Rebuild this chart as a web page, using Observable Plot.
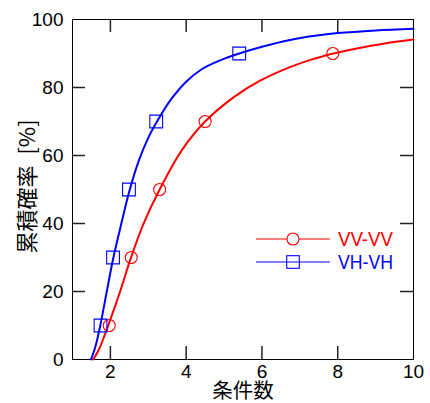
<!DOCTYPE html>
<html><head><meta charset="utf-8">
<script src="https://cdn.jsdelivr.net/npm/d3@7"></script>
<script src="https://cdn.jsdelivr.net/npm/@observablehq/plot@0.6"></script>
<style>body{margin:0;background:#fff}</style>
</head><body><div id="chart"></div>
<script>
// Axis ticks and labels
const xTicks = [2, 4, 6, 8, 10];
const yTicks = [0, 20, 40, 60, 80, 100];
const xLabel = "条件数";
const yLabel = "累積確率\u2002[%]";

// Series names
const seriesNames = ["VV-VV", "VH-VH"];
const seriesColors = ["#ff0000", "#0000ff"];

// Smooth curves
const vvCurveX = [1.55, 1.70, 1.85, 2.00, 2.15, 2.30, 2.53, 2.87, 3.30, 3.90, 4.50, 5.25, 5.95, 6.74, 7.30, 7.89, 8.50, 9.20, 10];
const vvCurveY = [0, 3, 7.2, 11.8, 16.5, 21.5, 29.5, 39.8, 50, 61.8, 70, 77.1, 82, 86, 88.2, 90, 91.5, 92.9, 94.1];
const vhCurveX = [1.49, 1.60, 1.73, 1.91, 2.08, 2.30, 2.50, 2.75, 3.00, 3.30, 3.60, 4.00, 4.40, 4.90, 5.40, 6.00, 6.74, 7.40, 8.00, 9.00, 10];
const vhCurveY = [0, 3.6, 9.8, 20.3, 30, 40.5, 49.5, 58.5, 65.2, 71.3, 76.5, 81.7, 85.3, 88, 90, 92, 94, 95.2, 96, 96.8, 97.3];

// Markers
const vvMarkX = [1.97, 2.55, 3.30, 4.50, 7.87];
const vvMarkY = [10, 30, 50, 70, 90];
const vhMarkX = [1.74, 2.07, 2.49, 3.21, 5.40];
const vhMarkY = [10, 30, 50, 70, 90];

const vvCurve = vvCurveX.map((x, i) => ({x, y: vvCurveY[i]}));
const vhCurve = vhCurveX.map((x, i) => ({x, y: vhCurveY[i]}));
const vvMarks = vvMarkX.map((x, i) => ({x, y: vvMarkY[i]}));
const vhMarks = vhMarkX.map((x, i) => ({x, y: vhMarkY[i]}));

const W = 430, H = 403;
const mL = 72, mR = 17, mT = 19, mB = 44;
const innerW = W - mL - mR, innerH = H - mT - mB;
const tickLen = 13;
const tickColor = "#222";
const tickWidth = 1.5;
const cjk = "'Noto Sans CJK JP', sans-serif";
const innerXTicks = xTicks.filter(v => v > 1 && v < 10);
const innerYTicks = yTicks.filter(v => v > 0 && v < 100);

const plot = Plot.plot({
  width: W, height: H,
  marginLeft: mL, marginRight: mR, marginTop: mT, marginBottom: mB,
  style: {fontFamily: "'Liberation Sans', Arial, sans-serif", fontSize: "19px", color: "#000", background: "#fff"},
  x: {domain: [1, 10], ticks: xTicks, tickSize: 0, tickPadding: 5, label: null},
  y: {domain: [0, 100], ticks: yTicks, tickSize: 0, tickPadding: 9, label: null},
  marks: [
    Plot.frame({stroke: "#000", strokeWidth: 1}),
    Plot.line(vvCurve, {x: "x", y: "y", stroke: seriesColors[0], strokeWidth: 2, curve: "catmull-rom"}),
    Plot.line(vhCurve, {x: "x", y: "y", stroke: seriesColors[1], strokeWidth: 2, curve: "catmull-rom"}),
    Plot.dot(vvMarks, {x: "x", y: "y", r: 6, stroke: seriesColors[0], strokeWidth: 1.1, fill: "none"}),
    Plot.dot(vhMarks, {x: "x", y: "y", r: 7.2, symbol: "square", stroke: seriesColors[1], strokeWidth: 1.1, fill: "none"}),
    // inward mirror ticks on all four sides
    Plot.ruleX(innerXTicks, {x: d => d, insetTop: innerH - tickLen, stroke: tickColor, strokeWidth: tickWidth}),
    Plot.ruleX(innerXTicks, {x: d => d, insetBottom: innerH - tickLen, stroke: tickColor, strokeWidth: tickWidth}),
    Plot.ruleY(innerYTicks, {y: d => d, insetRight: innerW - tickLen, stroke: tickColor, strokeWidth: tickWidth}),
    Plot.ruleY(innerYTicks, {y: d => d, insetLeft: innerW - tickLen, stroke: tickColor, strokeWidth: tickWidth}),
    Plot.text([xLabel], {text: d => d, frameAnchor: "bottom", textAnchor: "middle", lineAnchor: "middle", dy: 32, fontSize: 20.5, fontFamily: cjk, fill: "#000"}),
    Plot.text([yLabel], {text: d => d, frameAnchor: "left", textAnchor: "middle", lineAnchor: "middle", rotate: -90, dx: -45, dy: -3, fontSize: 22, fontFamily: cjk, fill: "#000"})
  ]
});

// Legend inside the frame (right side), placed relative to the plot's frame
const svg = d3.select(plot);
const sx = plot.scale("x"), sy = plot.scale("y");
const [fx0, fx1] = d3.extent(sx.range), [fy0, fy1] = d3.extent(sy.range);
const lg = svg.append("g");
seriesNames.forEach((name, i) => {
  const y = fy0 + 220 + i * 23;
  const x0 = fx1 - 157, x1 = fx1 - 83, xm = (x0 + x1) / 2;
  lg.append("line").attr("x1", x0).attr("x2", x1).attr("y1", y).attr("y2", y)
    .attr("stroke", seriesColors[i]).attr("stroke-width", 1.2);
  if (i === 0) {
    lg.append("circle").attr("cx", xm).attr("cy", y).attr("r", 6)
      .attr("fill", "#fff").attr("stroke", seriesColors[i]).attr("stroke-width", 1.1);
  } else {
    lg.append("rect").attr("x", xm - 6.3).attr("y", y - 6.3).attr("width", 12.6).attr("height", 12.6)
      .attr("fill", "none").attr("stroke", seriesColors[i]).attr("stroke-width", 1.1);
  }
  lg.append("text").attr("x", fx1 - 75).attr("y", y).attr("dy", "0.36em")
    .attr("text-anchor", "start")
    .attr("fill", seriesColors[i]).attr("font-size", 20)
    .attr("textLength", 55).attr("lengthAdjust", "spacingAndGlyphs")
    .attr("font-family", "'Liberation Sans', Arial, sans-serif").text(name);
});

document.getElementById("chart").appendChild(plot);
</script>
</body></html>
